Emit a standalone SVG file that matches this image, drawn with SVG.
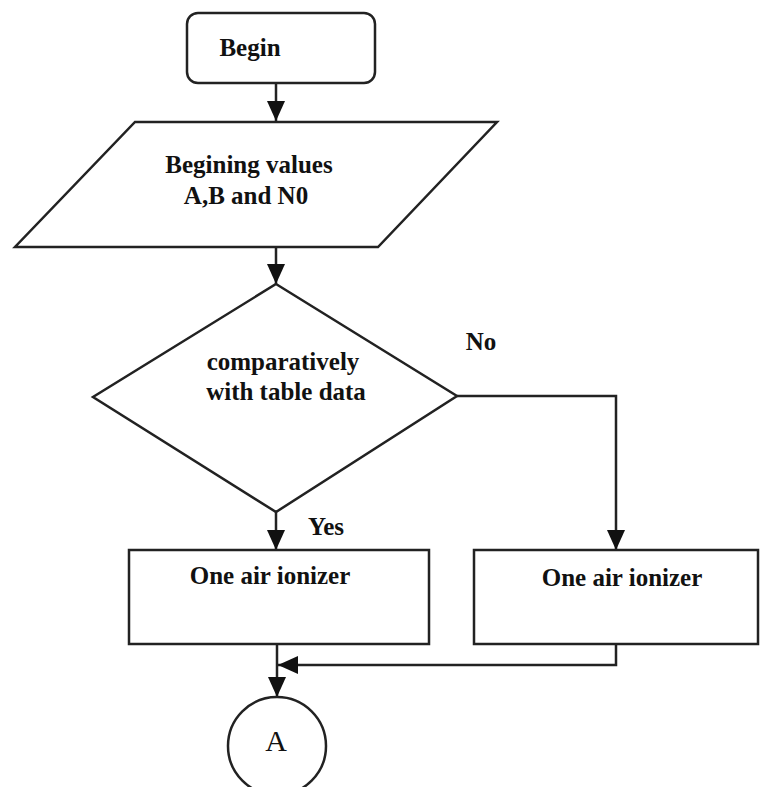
<svg xmlns="http://www.w3.org/2000/svg" width="763" height="787" viewBox="0 0 763 787">
<defs>
<marker id="arr" markerUnits="userSpaceOnUse" markerWidth="20" markerHeight="20" refX="20" refY="9" orient="auto" viewBox="0 0 20 18">
<path d="M0,0 L20,9 L0,18 Z" fill="#111"/>
</marker>
</defs>
<style>
.shape{fill:#fff;stroke:#222;stroke-width:2.5}
.line{fill:none;stroke:#222;stroke-width:2.5}
.t{font-family:"Liberation Serif","Times New Roman",serif;font-weight:bold;font-size:25px;fill:#111;text-anchor:middle}
.c{font-family:"Liberation Serif","Times New Roman",serif;font-size:30px;fill:#111;text-anchor:middle}
</style>
<rect width="763" height="787" fill="#fff"/>
<g id="connectors">
<line class="line" x1="276" y1="83" x2="276" y2="121" marker-end="url(#arr)"/>
<line class="line" x1="276" y1="247" x2="276" y2="284" marker-end="url(#arr)"/>
<line class="line" x1="276" y1="512" x2="276" y2="550" marker-end="url(#arr)"/>
<polyline class="line" points="457,396 616,396 616,550" marker-end="url(#arr)"/>
<polyline class="line" points="616,644 616,665 278,665" marker-end="url(#arr)"/>
<line class="line" x1="277" y1="644" x2="277" y2="697" marker-end="url(#arr)"/>
</g>
<g id="begin">
<rect class="shape" x="187" y="13" width="188" height="70" rx="11"/>
<text class="t" x="250" y="56">Begin</text>
</g>
<g id="input">
<polygon class="shape" points="135,122 497,122 378,247 15,247"/>
<text class="t" x="249" y="173">Begining values</text>
<text class="t" x="246" y="204">A,B and N0</text>
</g>
<g id="decision">
<polygon class="shape" points="276,284 457,396 276,512 93,397"/>
<text class="t" x="283" y="370">comparatively</text>
<text class="t" x="286" y="400">with table data</text>
</g>
<g id="labels">
<text class="t" x="481" y="350">No</text>
<text class="t" x="326" y="535">Yes</text>
</g>
<g id="ionizer-yes">
<rect class="shape" x="129" y="550" width="300" height="94"/>
<text class="t" x="270" y="584">One air ionizer</text>
</g>
<g id="ionizer-no">
<rect class="shape" x="474" y="550" width="284" height="94"/>
<text class="t" x="622" y="586">One air ionizer</text>
</g>
<g id="connector-A">
<circle class="shape" cx="277" cy="746" r="49"/>
<text class="c" x="276" y="751">A</text>
</g>
</svg>
